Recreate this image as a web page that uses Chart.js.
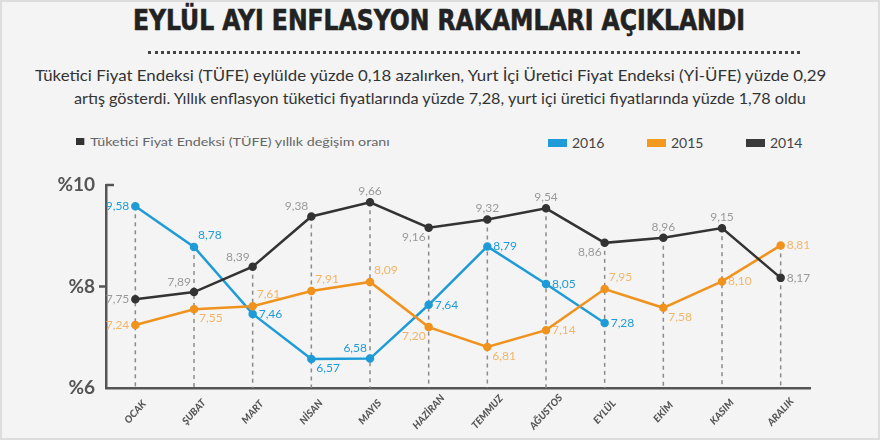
<!DOCTYPE html>
<html>
<head>
<meta charset="utf-8">
<script src="https://cdn.jsdelivr.net/npm/chart.js@4.4.1/dist/chart.umd.min.js"></script>
<style>
  body { margin: 0; width: 880px; height: 440px; overflow: hidden; position: relative;
         background: #f4f4f4; font-family: Lato, "Open Sans", sans-serif; box-shadow: inset 0 0 0 2px #ddd; }
  .fit { position: absolute; white-space: nowrap; transform-origin: 0 0; }
  #title { font-family: "DejaVu Sans Condensed", "DejaVu Sans"; font-stretch: condensed; font-weight: bold;
           font-size: 29px; color: #222; -webkit-text-stroke: 0.6px #222; }
  .sub { font-size: 15px; color: #333; }
  #dots { position: absolute; left: 148px; top: 51px; width: 652px; border-top: 3px dotted #444; }
  #note { font-size: 12px; color: #666; }
  #note span { display: inline-block; width: 7px; height: 7px; background: #333; margin-right: 5px; vertical-align: 1px; }
  .leg { position: absolute; top: 134px; font-size: 14px; color: #444; }
  .leg span { display: inline-block; width: 19px; height: 8px; margin-right: 5px; vertical-align: 1px; }
  #wrap { position: absolute; left: 0; top: 0; width: 880px; height: 440px; }
</style>
</head>
<body>
<div id="title" class="fit">EYLÜL AYI ENFLASYON RAKAMLARI AÇIKLANDI</div>
<div id="dots"></div>
<div id="sub1" class="fit sub">Tüketici Fiyat Endeksi (TÜFE) eylülde yüzde 0,18 azalırken, Yurt İçi Üretici Fiyat Endeksi (Yİ-ÜFE) yüzde 0,29</div>
<div id="sub2" class="fit sub">artış gösterdi. Yıllık enflasyon tüketici fiyatlarında yüzde 7,28, yurt içi üretici fiyatlarında yüzde 1,78 oldu</div>
<div id="note" class="fit"><span></span>Tüketici Fiyat Endeksi (TÜFE) yıllık değişim oranı</div>
<div class="leg" style="left:548px"><span style="background:#1f9bd7"></span>2016</div>
<div class="leg" style="left:647px"><span style="background:#f39a1e"></span>2015</div>
<div class="leg" style="left:746px"><span style="background:#3a3a3a"></span>2014</div>
<div id="wrap"><canvas id="myChart" width="880" height="440"></canvas></div>
<script>
// Step 1: data
const months = ['OCAK', 'ŞUBAT', 'MART', 'NİSAN', 'MAYIS', 'HAZİRAN', 'TEMMUZ', 'AĞUSTOS', 'EYLÜL', 'EKİM', 'KASIM', 'ARALIK'];
const values2016 = [9.58, 8.78, 7.46, 6.57, 6.58, 7.64, 8.79, 8.05, 7.28];
const values2015 = [7.24, 7.55, 7.61, 7.91, 8.09, 7.20, 6.81, 7.14, 7.95, 7.58, 8.10, 8.81];
const values2014 = [7.75, 7.89, 8.39, 9.38, 9.66, 9.16, 9.32, 9.54, 8.86, 8.96, 9.15, 8.17];
const yTicks = [6, 8, 10];

// where each value label sits around its point
const pos2016 = ['l', 'tr', 'r', 'br', 'tl', 'r', 'r', 'r', 'r'];
const pos2015 = ['l', 'br', 'tr', 'tr', 'tr', 'bl', 'br', 'r', 'tr', 'br', 'r', 'r'];
const pos2014 = ['l', 'tl', 'tl', 'tl', 't', 'bl', 't', 't', 'bl', 't', 't', 'r'];
const anchors = {
  l: [-6, 0, 'right'], r: [6, 0, 'left'], t: [0, -11, 'center'], b: [0, 12, 'center'],
  tl: [-3, -10, 'right'], tr: [4, -12, 'left'], bl: [-3, 9, 'right'], br: [5, 9, 'left']
};

// Step 2: fit the header texts to their widths
function fit(id, left, top, width) {
  const el = document.getElementById(id);
  el.style.left = left + 'px';
  el.style.top = top + 'px';
  el.style.transform = 'scaleX(' + (width / el.offsetWidth) + ')';
}
fit('title', 133, 3, 612);
fit('sub1', 35, 66, 791);
fit('sub2', 74, 89, 732);
fit('note', 76, 134, 314);

// Step 3: plugin for dashed drop lines, axis ticks, month names and value labels
const extras = {
  id: 'extras',
  beforeDatasetsDraw(chart) {
    const c = chart.ctx, a = chart.chartArea;
    c.save();
    c.strokeStyle = '#8a8a8a';
    c.lineWidth = 1.5;
    c.setLineDash([4, 4]);
    months.forEach((m, i) => {
      let top = a.bottom;
      chart.data.datasets.forEach((ds, d) => {
        const p = chart.getDatasetMeta(d).data[i];
        if (p && ds.data[i] != null) top = Math.min(top, p.y);
      });
      const x = chart.scales.x.getPixelForValue(i);
      c.beginPath(); c.moveTo(x, top); c.lineTo(x, a.bottom); c.stroke();
    });
    c.restore();
  },
  afterDraw(chart) {
    const c = chart.ctx, a = chart.chartArea, y = chart.scales.y;
    c.save();
    c.strokeStyle = '#555';
    c.lineWidth = 2.5;
    c.beginPath();
    c.moveTo(a.left, y.getPixelForValue(10)); c.lineTo(a.left + 8, y.getPixelForValue(10));
    c.moveTo(a.left - 7, y.getPixelForValue(8)); c.lineTo(a.left, y.getPixelForValue(8));
    c.stroke();

    // month names, rotated and centred under each category
    c.font = 'italic 900 10px Lato, sans-serif';
    c.fillStyle = '#555';
    c.textAlign = 'center';
    c.textBaseline = 'middle';
    months.forEach((m, i) => {
      c.save();
      c.translate(chart.scales.x.getPixelForValue(i), a.bottom + 24);
      c.rotate(-48 * Math.PI / 180);
      c.fillText(m, 0, 0);
      c.restore();
    });

    c.font = '12px Lato, "Open Sans", sans-serif';
    chart.data.datasets.forEach((ds, d) => {
      const meta = chart.getDatasetMeta(d);
      ds.data.forEach((v, i) => {
        const p = meta.data[i];
        const an = anchors[ds.labelPos[i]];
        c.fillStyle = ds.labelColor;
        c.textAlign = an[2];
        c.fillText(v.toFixed(2).replace('.', ','), p.x + an[0], p.y + an[1]);
      });
    });
    c.restore();
  }
};

// Step 4: build the chart
const ctx = document.getElementById('myChart').getContext('2d');
const line = (label, data, color, labelColor, labelPos) => ({
  label, data, labelPos, labelColor,
  borderColor: color, backgroundColor: color,
  borderWidth: 2.5, pointRadius: 3, pointHoverRadius: 3, tension: 0, clip: false
});

let myChart = new Chart(ctx, {
  type: 'line',
  data: {
    labels: months,
    datasets: [
      line('2014', values2014, '#333333', '#9a9a9a', pos2014),
      line('2015', values2015, '#f0931e', '#f2b568', pos2015),
      line('2016', values2016, '#1f9bd7', '#1f9bd7', pos2016)
    ]
  },
  options: {
    responsive: false,
    animation: false,
    layout: { padding: { top: 185, right: 70, left: 0, bottom: 0 } },
    plugins: { legend: { display: false }, tooltip: { enabled: false } },
    scales: {
      x: {
        offset: true,
        afterFit: s => { s.height = 52; },
        grid: { display: false },
        border: { color: '#555', width: 2.5 },
        ticks: { display: false }
      },
      y: {
        min: 6, max: 10,
        afterFit: s => { s.width = 106; },
        afterBuildTicks: s => { s.ticks = yTicks.map(v => ({ value: v })); },
        grid: { display: false },
        border: { color: '#555', width: 2.5 },
        ticks: {
          padding: 3, color: '#555',
          font: { family: 'Lato', size: 19, weight: 'bold' },
          callback: v => '%' + v
        }
      }
    }
  },
  plugins: [extras]
});
</script>
</body>
</html>
